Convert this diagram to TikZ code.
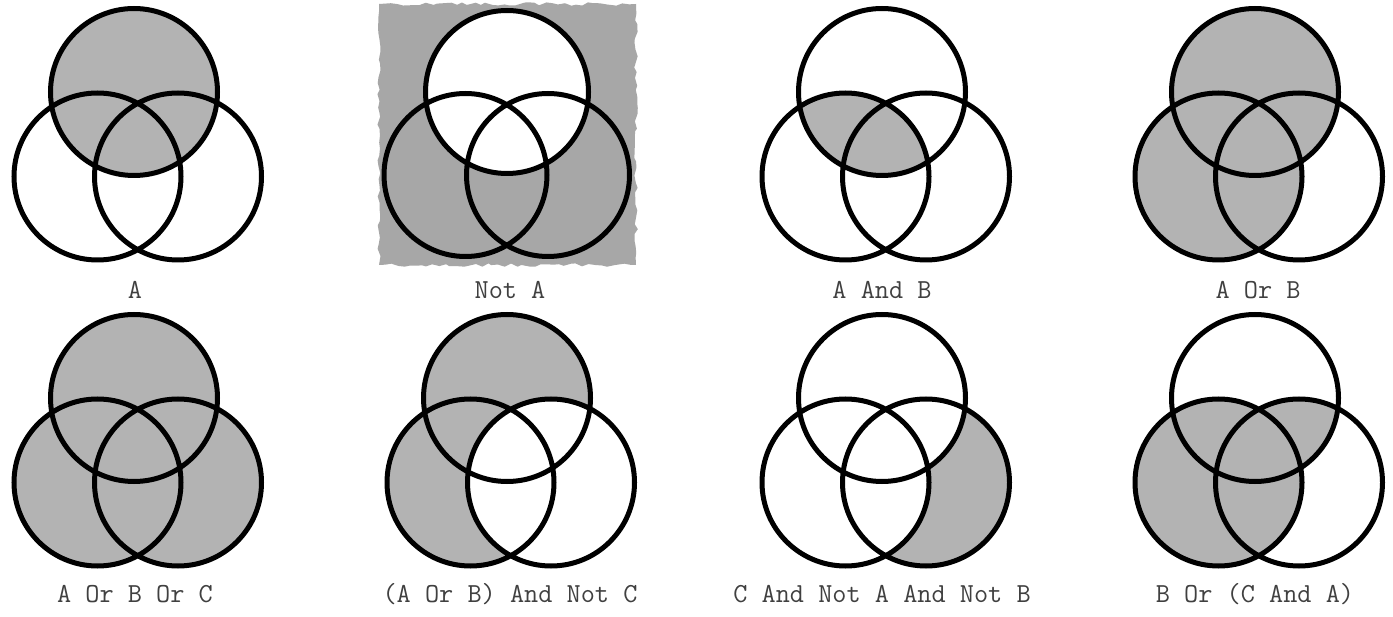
\documentclass[tikz,border=0pt]{standalone}
\usepackage{fontspec}
\usetikzlibrary{decorations.pathmorphing}
\definecolor{shadeg}{HTML}{B3B3B3}
\definecolor{bgg}{HTML}{A7A7A7}
\definecolor{lblc}{HTML}{404040}
\begin{document}
\begin{tikzpicture}[x=1pt,y=-1pt,
  ring/.style={draw=black,line width=5pt},
  shd/.style={fill=shadeg},
  wht/.style={fill=white},
  lbl/.style={text=lblc,font=\ttfamily\fontsize{27.5}{30}\selectfont,inner sep=0pt,anchor=center}]
\useasboundingbox[fill=white] (0,0) rectangle (1393,617);
\def\R{83.5pt}
\def\rings{(0,0) circle[radius=\R] (-36.5,84.5) circle[radius=\R] (44,84.5) circle[radius=\R]}
% Panel 1: A
\begin{scope}[shift={(134,92)}]
  \fill[shd] (0,0) circle[radius=\R];
  \draw[ring] \rings;
\end{scope}
\node[lbl] (l1) at (135,290) {A};
% Panel 2: Not A
\pgfmathsetseed{11}
\fill[bgg,decorate,decoration={random steps,segment length=6pt,amplitude=1.8pt}] (379,4) rectangle (636,265);
\begin{scope}[shift={(507,92)}]
  \def\Rb{81.5pt}
  \fill[wht] (0,0) circle[radius=\Rb];
  \draw[ring] (0,0) circle[radius=\Rb] (-41.5,83) circle[radius=\Rb] (41,83) circle[radius=\Rb];
\end{scope}
\node[lbl] (l2) at (510,290) {Not A};
% Panel 3: A And B
\begin{scope}[shift={(882,92)}]
  \begin{scope}
    \clip (0,0) circle[radius=\R];
    \fill[shd] (-36.5,84.5) circle[radius=\R];
  \end{scope}
  \draw[ring] \rings;
\end{scope}
\node[lbl] (l3) at (882,290) {A And B};
% Panel 4: A Or B
\begin{scope}[shift={(1255,92)}]
  \fill[shd] (0,0) circle[radius=\R] (-36.5,84.5) circle[radius=\R];
  \draw[ring] \rings;
\end{scope}
\node[lbl] (l4) at (1258,290) {A Or B};
% Panel 5: A Or B Or C
\begin{scope}[shift={(134,398)}]
  \fill[shd] (0,0) circle[radius=\R];
  \fill[shd] (-36.5,84.5) circle[radius=\R];
  \fill[shd] (44,84.5) circle[radius=\R];
  \draw[ring] \rings;
\end{scope}
\node[lbl] (l5) at (135,594) {A Or B Or C};
% Panel 6: (A Or B) And Not C
\begin{scope}[shift={(507,398)}]
  \fill[shd] (0,0) circle[radius=\R];
  \fill[shd] (-36.5,84.5) circle[radius=\R];
  \fill[wht] (44,84.5) circle[radius=\R];
  \draw[ring] \rings;
\end{scope}
\node[lbl] (l6) at (510,594) {(A Or B) And Not C};
% Panel 7: C And Not A And Not B
\begin{scope}[shift={(882,398)}]
  \fill[shd] (44,84.5) circle[radius=\R];
  \fill[wht] (0,0) circle[radius=\R];
  \fill[wht] (-36.5,84.5) circle[radius=\R];
  \draw[ring] \rings;
\end{scope}
\node[lbl] (l7) at (882,594) {C And Not A And Not B};
% Panel 8: B Or (C And A)
\begin{scope}[shift={(1255,398)}]
  \fill[shd] (-36.5,84.5) circle[radius=\R];
  \begin{scope}
    \clip (0,0) circle[radius=\R];
    \fill[shd] (44,84.5) circle[radius=\R];
  \end{scope}
  \draw[ring] \rings;
\end{scope}
\node[lbl] (l8) at (1255,594) {B Or (C And A)};
\end{tikzpicture}
\end{document}
